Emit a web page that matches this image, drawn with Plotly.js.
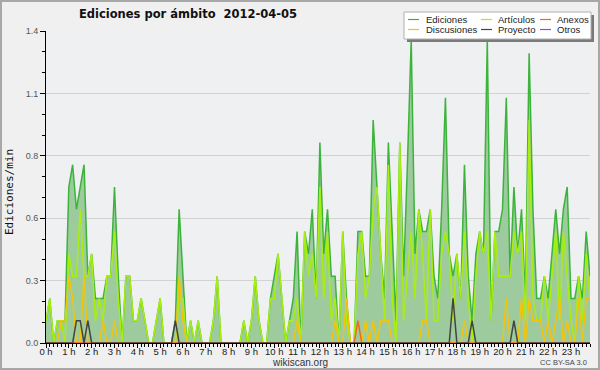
<!DOCTYPE html>
<html><head><meta charset="utf-8">
<script src="https://cdn.plot.ly/plotly-3.0.1.min.js"></script>
<style>html,body{margin:0;padding:0;background:#f0f0f0}#chart{width:600px;height:370px}</style>
</head><body><div id="chart"></div>
<script>
// 10-minute bins, 0:00 .. 23:50 (values in edits per minute)
var ediciones = [
 0.1,0.2,0,0.1,0.1,0.1, 0.7,0.8,0.6,0.7,0.8,0.3,
 0.4,0.2,0.2,0.2,0.3,0.3, 0.7,0.3,0,0.3,0.3,0.1,
 0.1,0.2,0.1,0,0,0.1, 0.2,0,0,0,0.1,0.6,
 0.3,0,0.1,0,0.1,0, 0,0,0.1,0.3,0,0,
 0,0,0,0,0.1,0, 0.1,0.3,0.1,0,0,0.2,
 0.3,0.4,0.2,0,0.1,0.2, 0.5,0,0.5,0.4,0.6,0.2,
 0.9,0.4,0.6,0.3,0.3,0, 0.5,0.2,0,0,0.5,0.5,
 0.3,0.3,1.0,0.7,0.4,0.2, 0.9,0.5,0.1,0.9,0.3,0.8,
 1.36,0.4,0.6,0.5,0.5,0.6, 0.3,0.2,0.6,1.1,0.4,0.3,
 0.4,0.2,0.8,0.3,0.1,0.4, 0.5,0.4,1.36,0.1,0.5,0.5,
 0.6,1.1,0.3,0.7,0.4,0.6, 0.2,1.3,0.6,0.2,0.2,0.3,
 0.2,0.4,0.6,0.4,0.6,0.7, 0.2,0.2,0.3,0.2,0.5,0.3
];
var articulos = [
 0.1,0.2,0,0.1,0.1,0, 0.4,0.3,0.3,0.6,0.3,0.3,
 0.4,0.1,0.2,0.1,0.3,0.3, 0.5,0.2,0,0.3,0.3,0.1,
 0.1,0.2,0.1,0,0,0.1, 0.2,0,0,0,0,0.2,
 0.2,0,0.1,0,0.1,0, 0,0,0.1,0.3,0,0,
 0,0,0,0,0.1,0, 0.1,0.3,0.1,0,0,0.2,
 0.2,0.4,0.2,0,0.1,0.1, 0.2,0,0.5,0.3,0.4,0.2,
 0.7,0.2,0.5,0.1,0.2,0, 0.5,0.1,0,0,0.4,0.5,
 0.2,0.3,0.6,0.7,0.4,0.1, 0.8,0.2,0,0.9,0.1,0.3,
 0.5,0.2,0.6,0.4,0.1,0.6, 0.1,0.1,0.4,0.5,0.4,0.1,
 0.4,0.2,0.5,0.2,0,0.3, 0.5,0.4,0.5,0.1,0.5,0.3,
 0.3,0.3,0.3,0.5,0.4,0.5, 0.1,1.0,0.2,0.1,0.1,0.3,
 0.1,0.3,0.5,0.1,0.5,0.3, 0.1,0,0.3,0.1,0.4,0.2
];
var discusiones = [
 0,0,0,0,0.1,0.1, 0.3,0.2,0,0,0.3,0,
 0,0,0,0.1,0,0, 0.1,0,0,0,0,0,
 0,0,0,0,0,0, 0,0,0,0,0,0.3,
 0.1,0,0,0,0,0, 0,0,0,0,0,0,
 0,0,0,0,0,0, 0,0,0,0,0,0,
 0,0,0,0,0,0, 0.1,0,0,0,0,0,
 0,0,0,0,0.1,0, 0,0.2,0,0,0,0,
 0.1,0,0.1,0,0.1,0.1, 0.1,0,0,0,0,0,
 0,0,0,0.1,0.1,0, 0,0,0,0,0,0,
 0,0,0.1,0,0,0, 0,0,0,0,0,0,
 0,0.2,0,0,0,0.2, 0,0.2,0.1,0.1,0.1,0,
 0.1,0,0.1,0.2,0,0.1, 0,0,0.2,0,0.2,0.2
];
var anexos = [
 0,0,0,0,0,0, 0,0,0,0,0,0,
 0,0,0,0,0,0, 0,0,0,0,0,0,
 0,0,0,0,0,0, 0,0,0,0,0,0,
 0,0,0,0,0,0, 0,0,0,0,0,0,
 0,0,0,0,0,0, 0,0,0,0,0,0,
 0,0,0,0,0,0, 0,0,0,0,0,0,
 0,0,0,0,0,0, 0,0,0,0,0.1,0,
 0,0,0,0,0,0, 0,0,0,0,0,0,
 0,0,0,0,0,0, 0,0,0,0,0,0,
 0,0,0,0,0,0, 0,0,0,0,0,0,
 0,0,0,0,0,0, 0,0,0,0,0,0,
 0,0,0,0,0,0, 0,0,0,0,0,0
];
var proyecto = [
 0,0,0,0,0,0, 0,0,0.1,0.1,0,0.1,
 0,0,0,0,0,0, 0,0,0,0,0,0,
 0,0,0,0,0,0, 0,0,0,0,0.1,0,
 0,0,0,0,0,0, 0,0,0,0,0,0,
 0,0,0,0,0,0, 0,0,0,0,0,0,
 0,0,0,0,0,0, 0,0,0,0,0,0,
 0,0,0,0,0,0, 0,0,0,0,0,0,
 0,0,0,0,0,0, 0,0,0,0,0,0,
 0,0,0,0,0,0, 0,0,0,0,0,0.2,
 0,0,0,0,0.1,0, 0,0,0,0,0,0,
 0,0,0,0.1,0,0, 0,0,0,0,0,0,
 0,0,0,0,0,0, 0,0,0,0,0,0
];
var otros = [
 0,0,0,0,0,0, 0,0,0,0,0,0, 0,0,0,0,0,0, 0,0,0,0,0,0,
 0,0,0,0,0,0, 0,0,0,0,0,0, 0,0,0,0,0,0, 0,0,0,0,0,0,
 0,0,0,0,0,0, 0,0,0,0,0,0, 0,0,0,0,0,0, 0,0,0,0,0,0,
 0,0,0,0,0,0, 0,0,0,0,0,0, 0,0,0,0,0,0, 0,0,0,0,0,0,
 0,0,0,0,0,0, 0,0,0,0,0,0, 0,0,0,0,0,0, 0,0,0,0,0,0,
 0,0,0,0,0,0, 0,0,0,0,0,0, 0,0,0,0,0,0, 0,0,0,0,0,0
];
var hourLabels = ['0 h','1 h','2 h','3 h','4 h','5 h','6 h','7 h','8 h','9 h','10 h','11 h',
 '12 h','13 h','14 h','15 h','16 h','17 h','18 h','19 h','20 h','21 h','22 h','23 h'];
var yTickVals = [0, 0.28, 0.56, 0.84, 1.12, 1.4];
var yTickText = ['0.0','0.3','0.6','0.8','1.1','1.4'];
var title = 'Ediciones por ámbito\u00a0\u00a02012-04-05';

var x = ediciones.map(function(_, i){ return i / 6; });
var hourVals = hourLabels.map(function(_, i){ return i; });

var col = {ed:'#3cb43c', edFill:'#9ecb9e', art:'#a8ee10', disc:'#f2c40c', anex:'#f06a1c', proy:'#444444', otros:'#a040f0'};
var narrow = 'Liberation Sans, Arial, sans-serif';

function line(y, c, name){
  return {x:x, y:y, type:'scatter', mode:'lines', name:name, line:{color:c, width:1.5}, hoverinfo:'skip'};
}
var edTrace = line(ediciones, col.ed, 'Ediciones');
edTrace.fill = 'tozeroy'; edTrace.fillcolor = col.edFill;
var data = [edTrace, line(otros, col.otros, 'Otros'), line(articulos, col.art, 'Artículos'),
            line(discusiones, col.disc, 'Discusiones'), line(anexos, col.anex, 'Anexos'), line(proyecto, col.proy, 'Proyecto')];

var L = 46, T = 31, W = 544, H = 312;
function px(p){ return (p - L) / W; }
function py(p){ return (T + H - p) / H; }

var legendItems = [
  {name:'Ediciones', c:col.ed, lx:408, tx:424, y:19.5},
  {name:'Artículos', c:col.art, lx:481, tx:496, y:19.5},
  {name:'Anexos', c:col.anex, lx:540, tx:555, y:19.5},
  {name:'Discusiones', c:col.disc, lx:408, tx:424, y:29.5},
  {name:'Proyecto', c:col.proy, lx:481, tx:496, y:29.5},
  {name:'Otros', c:col.otros, lx:540, tx:555, y:29.5}
];
var shapes = [
  {type:'rect', xref:'paper', yref:'paper', x0:px(407), x1:px(594), y0:py(15), y1:py(42), fillcolor:'#7a7a7a', line:{width:0}, layer:'above'},
  {type:'rect', xref:'paper', yref:'paper', x0:px(404), x1:px(591), y0:py(12), y1:py(39), fillcolor:'#ffffff', line:{color:'#b0b0b0', width:1}, layer:'above'},
  {type:'rect', xref:'paper', yref:'paper', x0:px(1), x1:px(599), y0:py(1), y1:py(369), fillcolor:'rgba(0,0,0,0)', line:{color:'#a8a8a8', width:2}, layer:'above'}
];
var annotations = [];
legendItems.forEach(function(it){
  shapes.push({type:'line', xref:'paper', yref:'paper', x0:px(it.lx), x1:px(it.lx+11), y0:py(it.y), y1:py(it.y), line:{color:it.c, width:1.2}, layer:'above'});
  annotations.push({xref:'paper', yref:'paper', x:px(it.tx), y:py(it.y), xanchor:'left', yanchor:'middle', showarrow:false,
    text:it.name, font:{family:narrow, size:9.5, color:'#222'}});
});
annotations.push({xref:'paper', yref:'paper', x:px(10), y:py(192), xanchor:'center', yanchor:'middle', showarrow:false, textangle:-90,
  text:'Ediciones/min', font:{family:'DejaVu Sans Mono, monospace', size:11, color:'#111'}});
annotations.push({xref:'paper', yref:'paper', x:px(300), y:py(362), xanchor:'center', yanchor:'middle', showarrow:false,
  text:'wikiscan.org', font:{family:narrow, size:10, color:'#333'}});
annotations.push({xref:'paper', yref:'paper', x:px(589), y:py(362), xanchor:'right', yanchor:'middle', showarrow:false,
  text:'CC BY-SA 3.0', font:{family:narrow, size:7.5, color:'#444'}});

var layout = {
  width:600, height:370,
  margin:{l:L, r:600-L-W, t:T, b:370-T-H, pad:0},
  paper_bgcolor:'#f0f0f0', plot_bgcolor:'#eff0f2',
  showlegend:false,
  title:{text:title, x:188/600, xanchor:'center', y:1-14/370, yanchor:'middle',
         font:{family:'DejaVu Sans, sans-serif', size:11.5, color:'#111', weight:'bold'}},
  xaxis:{range:[0, 143/6], tickmode:'array', tickvals:hourVals, ticktext:hourLabels,
         ticks:'outside', ticklen:4, tickwidth:1, tickcolor:'#000', ticklabelstandoff:-4,
         minor:{dtick:1/6, tick0:0, ticks:'outside', ticklen:3, tickcolor:'#000', showgrid:false},
         showgrid:false, zeroline:false, showline:true, linecolor:'#000', linewidth:1,
         tickfont:{family:narrow, size:9.5, color:'#222'}, fixedrange:true},
  yaxis:{range:[0, 1.4], tickmode:'array', tickvals:yTickVals, ticktext:yTickText,
         ticks:'outside', ticklen:5, tickwidth:1, tickcolor:'#000',
         minor:{dtick:0.28/3, tick0:0, ticks:'outside', ticklen:3, tickcolor:'#000', showgrid:false},
         showgrid:true, gridcolor:'#d2d2d2', gridwidth:1, zeroline:false, showline:true, linecolor:'#000', linewidth:1,
         tickfont:{family:narrow, size:9, color:'#555'}, fixedrange:true},
  shapes:shapes, annotations:annotations
};
Plotly.newPlot('chart', data, layout, {staticPlot:true, displayModeBar:false});
</script></body></html>
